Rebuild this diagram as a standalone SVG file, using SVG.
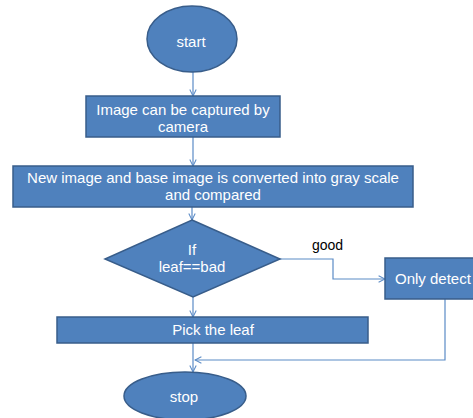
<svg xmlns="http://www.w3.org/2000/svg" width="473" height="418" viewBox="0 0 473 418">
<style>
.n{fill:#4F81BD;stroke:#385D8A;stroke-width:1.5}
.t{fill:#fff;font-family:"Liberation Sans",Arial,sans-serif;font-size:15px;text-anchor:middle}
.c{fill:none;stroke:#5B8BC6;stroke-width:1.2}
.l{fill:#000;font-family:"Liberation Sans",Arial,sans-serif;font-size:14px}
</style>
<defs>
<marker id="a" viewBox="0 0 10 10" refX="9" refY="5" markerWidth="8" markerHeight="8" markerUnits="userSpaceOnUse" orient="auto">
<polyline points="1,1 9,5 1,9" fill="none" stroke="#5B8BC6" stroke-width="1.3"/>
</marker>
</defs>
<rect width="473" height="418" fill="#fff"/>
<g id="connectors">
<line class="c" x1="193" y1="72" x2="193" y2="96" marker-end="url(#a)"/>
<line class="c" x1="193" y1="137" x2="193" y2="166" marker-end="url(#a)"/>
<line class="c" x1="192" y1="207" x2="192" y2="220" marker-end="url(#a)"/>
<polyline class="c" points="280,259 333,259 333,279 385,279" marker-end="url(#a)"/>
<line class="c" x1="193" y1="297" x2="193" y2="317" marker-end="url(#a)"/>
<line class="c" x1="193" y1="343" x2="193" y2="372" marker-end="url(#a)"/>
<polyline class="c" points="445,299 445,360 195,360" marker-end="url(#a)"/>
</g>
<g id="start">
<ellipse class="n" cx="192" cy="39" rx="45" ry="33"/>
<text class="t" x="191" y="47">start</text>
</g>
<g id="capture">
<rect class="n" x="86" y="96" width="194" height="41"/>
<text class="t" x="183" y="115">Image can be captured by</text>
<text class="t" x="183" y="132">camera</text>
</g>
<g id="convert">
<rect class="n" x="13" y="166" width="400" height="41"/>
<text class="t" x="213" y="183">New image and base image is converted into gray scale</text>
<text class="t" x="213" y="200">and compared</text>
</g>
<g id="decision">
<polygon class="n" points="192,220 280,259 193,297 105,259"/>
<text class="t" x="192" y="255">If</text>
<text class="t" x="192" y="272">leaf==bad</text>
</g>
<text class="l" x="312" y="250">good</text>
<g id="detect">
<rect class="n" x="385" y="258" width="100" height="41"/>
<text class="t" x="395" y="284" style="text-anchor:start">Only detect</text>
</g>
<g id="pick">
<rect class="n" x="57" y="317" width="311" height="26"/>
<text class="t" x="213" y="335">Pick the leaf</text>
</g>
<g id="stop">
<ellipse class="n" cx="185" cy="396" rx="61" ry="24"/>
<text class="t" x="184" y="402">stop</text>
</g>
</svg>
